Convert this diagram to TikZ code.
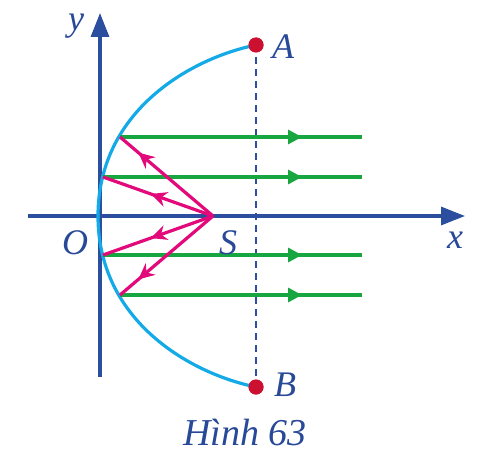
\documentclass[tikz,border=0pt]{standalone}
\usepackage{fontspec}
\setmainfont{Liberation Serif}
\definecolor{axisblue}{RGB}{44, 78, 158}
\definecolor{mirrorcyan}{RGB}{20, 170, 232}
\definecolor{raygreen}{RGB}{24, 166, 64}
\definecolor{raymagenta}{RGB}{226, 10, 122}
\definecolor{pointred}{RGB}{204, 16, 48}
\definecolor{textblue}{RGB}{40, 72, 152}
\usetikzlibrary{arrows.meta, decorations.markings}
\tikzset{
    axis/.style={draw=axisblue, line width=1.6pt, -{Triangle[length=12pt, width=9pt]}},
    mirror/.style={draw=mirrorcyan, line width=1.6pt},
    guide/.style={draw=axisblue, line width=1.1pt, dash pattern=on 3.5pt off 2.5pt},
    outray/.style={draw=raygreen, line width=1.6pt, postaction={decorate},
        decoration={markings, mark=at position -30pt with {\arrow{Triangle[length=7pt, width=7pt]}}}},
    inray/.style={draw=raymagenta, line width=1.6pt, postaction={decorate},
        decoration={markings, mark=at position #1 with {\arrow{Stealth[length=8pt, width=7.5pt]}}}},
    dot/.style={circle, fill=pointred, inner sep=0pt, minimum size=7.5pt},
    lbl/.style={text=textblue, font=\fontsize{18}{20}\selectfont\itshape, inner sep=0pt},
}
\begin{document}
\begin{tikzpicture}[x=0.5pt, y=0.5pt]
    \useasboundingbox (-100, -239) rectangle (385, 216);

    % Points
    \coordinate (O) at (0, 0);
    \coordinate (S) at (113, 0);
    \coordinate (V) at (-2, 0);
    \coordinate (xstart) at (-72, 0);
    \coordinate (xend) at (365, 0);
    \coordinate (ystart) at (0, -161);
    \coordinate (yend) at (0, 203);

    % Mirror points
    \coordinate (p1) at (20, 79);
    \coordinate (p2) at (3, 39);
    \coordinate (p3) at (3, -39);
    \coordinate (p4) at (20, -79);
    \coordinate (e1) at (262, 79);
    \coordinate (e2) at (262, 39);
    \coordinate (e3) at (262, -39);
    \coordinate (e4) at (262, -79);

    % Axes
    \draw[axis] (xstart) -- (xend);
    \draw[axis] (ystart) -- (yend);

    % Parabola
    \node[dot] (A) at (156, 171) {};
    \node[dot] (B) at (156, -171) {};
    \draw[guide] (A.center) -- (B.center);
    \draw[mirror] (B.center) .. controls (92, -158) and (-2, -106) .. (V)
        .. controls (-2, 106) and (92, 158) .. (A.center);
    \node[dot] at (A.center) {};
    \node[dot] at (B.center) {};

    % Reflected rays
    \draw[outray] (p1) -- (e1);
    \draw[outray] (p2) -- (e2);
    \draw[outray] (p3) -- (e3);
    \draw[outray] (p4) -- (e4);

    % Rays from the source
    \draw[inray=49pt] (S) -- (p1);
    \draw[inray=33pt] (S) -- (p2);
    \draw[inray=33pt] (S) -- (p3);
    \draw[inray=49pt] (S) -- (p4);

    % Labels
    \node[lbl] (ylabel) at (-24, 190) {y};
    \node[lbl] (xlabel) at (355, -24) {x};
    \node[lbl] (Olabel) at (-25, -27) {O};
    \node[lbl] (Slabel) at (128, -27) {S};
    \node[lbl] (Alabel) at (183, 169) {A};
    \node[lbl] (Blabel) at (185, -169) {B};
    \node[lbl, font=\fontsize{19}{21}\selectfont\itshape] (caption) at (145, -216) {Hình 63};
\end{tikzpicture}
\end{document}
